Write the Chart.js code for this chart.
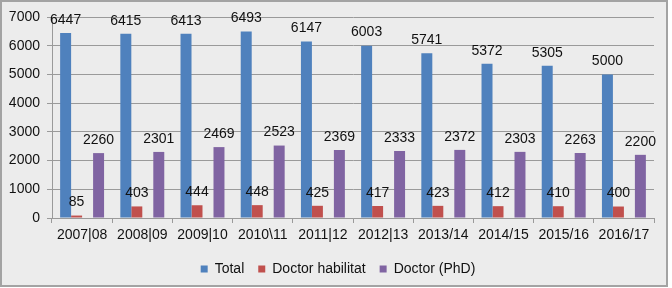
<!DOCTYPE html>
<html>
<head>
<meta charset="utf-8">
<script src="https://cdn.jsdelivr.net/npm/chart.js@4/dist/chart.umd.min.js"></script>
<style>
  html, body { margin: 0; padding: 0; background: #fff; }
  canvas { display: block; }
</style>
</head>
<body>
<canvas id="chart" width="672" height="288"></canvas>
<script>
const years = ['2007|08', '2008|09', '2009|10', '2010\\11', '2011|12', '2012|13', '2013/14', '2014/15', '2015/16', '2016/17'];
const total = [6447, 6415, 6413, 6493, 6147, 6003, 5741, 5372, 5305, 5000];
const habilitat = [85, 403, 444, 448, 425, 417, 423, 412, 410, 400];
const phd = [2260, 2301, 2469, 2523, 2369, 2333, 2372, 2303, 2263, 2200];

const font = 'Liberation Sans';
const fsize = 14;

// frame + light grey background like the excel chart
const frame = {
    id: 'frame',
    beforeDraw(chart) {
        const ctx = chart.ctx;
        ctx.save();
        ctx.fillStyle = '#ececec';
        ctx.fillRect(1, 1, 666, 285);
        ctx.strokeStyle = '#a3a3a3';
        ctx.lineWidth = 2;
        ctx.strokeRect(1, 1, 666, 285);
        ctx.restore();
    },
    afterLayout(chart) {
        // legend sits a bit right of the plot centre
        chart.legend.left += 7;
        chart.legend.right += 7;
    }
};

// value labels above every bar
const valueLabels = {
    id: 'valueLabels',
    afterDatasetsDraw(chart) {
        const ctx = chart.ctx;
        ctx.save();
        ctx.font = fsize + 'px "' + font + '"';
        ctx.fillStyle = '#111';
        ctx.textAlign = 'center';
        ctx.textBaseline = 'middle';
        chart.data.datasets.forEach((ds, i) => {
            if (!ds.label) return;
            chart.getDatasetMeta(i).data.forEach((bar, j) => {
                ctx.fillText(ds.data[j], bar.x, bar.y - 13);
            });
        });
        ctx.restore();
    }
};

const ctx = document.getElementById('chart').getContext('2d');
const myChart = new Chart(ctx, {
    type: 'bar',
    data: {
        labels: years,
        datasets: [
            { label: 'Total', data: total, backgroundColor: '#4f81bd' },
            { label: 'Doctor habilitat', data: habilitat, backgroundColor: '#c0504d' },
            { label: '', data: [], backgroundColor: 'rgba(0,0,0,0)' },
            { label: 'Doctor (PhD)', data: phd, backgroundColor: '#8064a2' }
        ]
    },
    options: {
        responsive: false,
        animation: false,
        categoryPercentage: 0.73,
        barPercentage: 1,
        layout: { padding: { left: 8, right: 18, top: 17, bottom: 2 } },
        plugins: {
            tooltip: { enabled: false },
            legend: {
                position: 'bottom',
                labels: {
                    filter: item => item.text !== '',
                    boxWidth: 7,
                    boxHeight: 7,
                    padding: 14,
                    color: '#111',
                    font: { family: font, size: fsize }
                }
            }
        },
        scales: {
            x: {
                afterFit: s => { s.height = 30; },
                grid: {
                    drawOnChartArea: false,
                    tickLength: 5,
                    color: '#9a9a9a'
                },
                border: { color: '#9a9a9a' },
                ticks: { color: '#111', padding: 4, font: { family: font, size: fsize } }
            },
            y: {
                min: 0,
                max: 7000,
                afterFit: s => { s.width = 44; },
                ticks: {
                    stepSize: 1000,
                    color: '#111',
                    padding: 7,
                    font: { family: font, size: fsize },
                    callback: v => String(v)
                },
                grid: { color: '#9a9a9a', tickLength: 5 },
                border: { color: '#9a9a9a' }
            }
        }
    },
    plugins: [frame, valueLabels]
});
</script>
</body>
</html>
